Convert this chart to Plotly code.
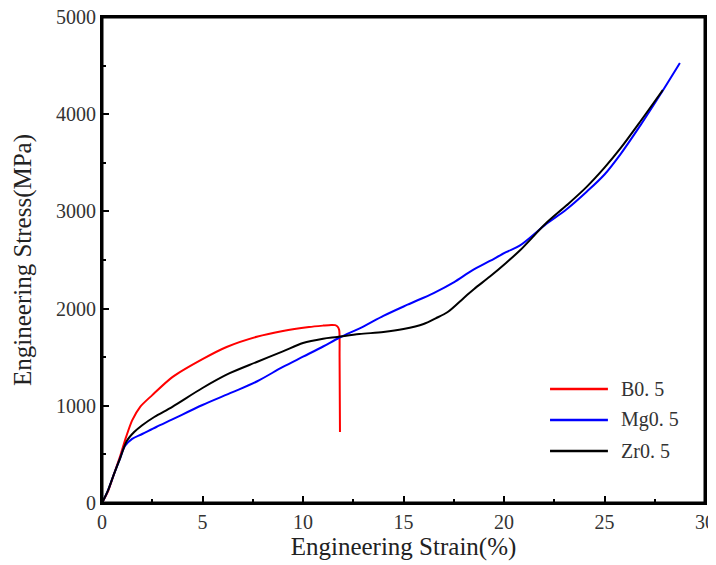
import plotly.graph_objects as go

names = ["B0. 5", "Mg0. 5", "Zr0. 5"]
colors = ["#ff0000", "#0000ff", "#000000"]

# B0.5 (red)
b_strain = [0, 0.3, 0.6, 0.9, 1.2, 1.5, 1.9, 2.5, 3.5, 5.0, 6.2, 7.7, 9.0, 10.3, 11.0, 11.4, 11.6, 11.72, 11.8, 11.82, 11.84]
b_stress = [0, 120, 300, 480, 680, 850, 990, 1110, 1295, 1480, 1605, 1710, 1770, 1810, 1825, 1832, 1830, 1815, 1780, 1500, 730]

# Mg0.5 (blue)
mg_strain = [0, 0.3, 0.6, 0.9, 1.15, 1.5, 2.0, 2.7, 3.5, 5.0, 6.5, 7.7, 9.0, 10.0, 11.0, 11.8, 13.0, 14.0, 15.2,
             16.5, 17.5, 18.4, 19.3, 20.1, 20.8, 22.1, 23.1, 24.1, 25.0, 25.8, 26.8, 27.76, 28.75]
mg_stress = [0, 130, 300, 460, 590, 660, 710, 782, 860, 1008, 1140, 1250, 1400, 1505, 1610, 1700, 1815, 1925, 2040,
             2160, 2270, 2390, 2490, 2580, 2650, 2870, 3020, 3200, 3380, 3590, 3890, 4197, 4527]

# Zr0.5 (black)
zr_strain = [0, 0.3, 0.6, 0.9, 1.24, 1.6, 2.0, 2.6, 3.5, 5.0, 6.3, 7.7, 9.0, 10.0, 11.0, 11.7, 12.8, 14.0, 15.0,
             16.0, 16.6, 17.2, 18.0, 18.5, 19.3, 20.1, 20.8, 22.1, 23.1, 24.1, 25.0, 25.8, 26.8, 27.9]
zr_stress = [0, 130, 300, 460, 640, 730, 800, 885, 990, 1183, 1330, 1451, 1560, 1646, 1690, 1708, 1738, 1759, 1790,
             1842, 1900, 1965, 2110, 2200, 2330, 2470, 2600, 2880, 3060, 3250, 3450, 3650, 3930, 4249]

serif = "Liberation Serif"

fig = go.Figure()
for xs, ys, name, col, sm in [(b_strain, b_stress, names[0], colors[0], 0.7),
                              (mg_strain, mg_stress, names[1], colors[1], 0.9),
                              (zr_strain, zr_stress, names[2], colors[2], 0.9)]:
    fig.add_trace(go.Scatter(x=xs, y=ys, mode="lines", name=name, showlegend=False,
                             line=dict(color=col, width=2, shape="spline", smoothing=sm)))

# frame round the plot area
fig.add_shape(type="rect", xref="paper", yref="paper", x0=0, x1=1, y0=0, y1=1,
              line=dict(color="black", width=3), layer="above")

# legend drawn by hand so the line samples are as long as in the original
for n, (name, col) in enumerate(zip(names, colors)):
    yy = 0.2346 - n * 0.0638
    fig.add_shape(type="line", xref="paper", yref="paper", x0=0.743, x1=0.839, y0=yy, y1=yy,
                  line=dict(color=col, width=2.5))
    fig.add_annotation(text=name, xref="paper", yref="paper", x=0.857, y=yy, xanchor="left", yanchor="middle",
                       showarrow=False, font=dict(family=serif, size=20, color="#333333"))

axis_common = dict(
    showline=True, linecolor="black", linewidth=2, mirror=True,
    ticks="inside", ticklen=7, tickwidth=2, tickcolor="black",
    showgrid=False, zeroline=False, automargin=False, ticklabeloverflow="allow",
    tickfont=dict(family=serif, size=20, color="#333333"),
)

fig.update_xaxes(range=[0, 30], dtick=5,
                 minor=dict(ticks="inside", ticklen=4, tickwidth=2, tickcolor="black", dtick=2.5),
                 title=dict(text="Engineering Strain(%)", font=dict(family=serif, size=25, color="#222222"), standoff=4),
                 **axis_common)
fig.update_yaxes(range=[0, 5000], dtick=1000,
                 minor=dict(ticks="inside", ticklen=4, tickwidth=2, tickcolor="black", dtick=500),
                 title=dict(text="Engineering Stress(MPa)", font=dict(family=serif, size=25, color="#222222"), standoff=17),
                 **axis_common)

# the page puts the figure 8px in from the top-left corner
fig.update_layout(
    width=708, height=557,
    margin=dict(l=94, r=11, t=9, b=62),
    paper_bgcolor="white", plot_bgcolor="white",
    showlegend=False,
)

fig.write_html("out.html")
